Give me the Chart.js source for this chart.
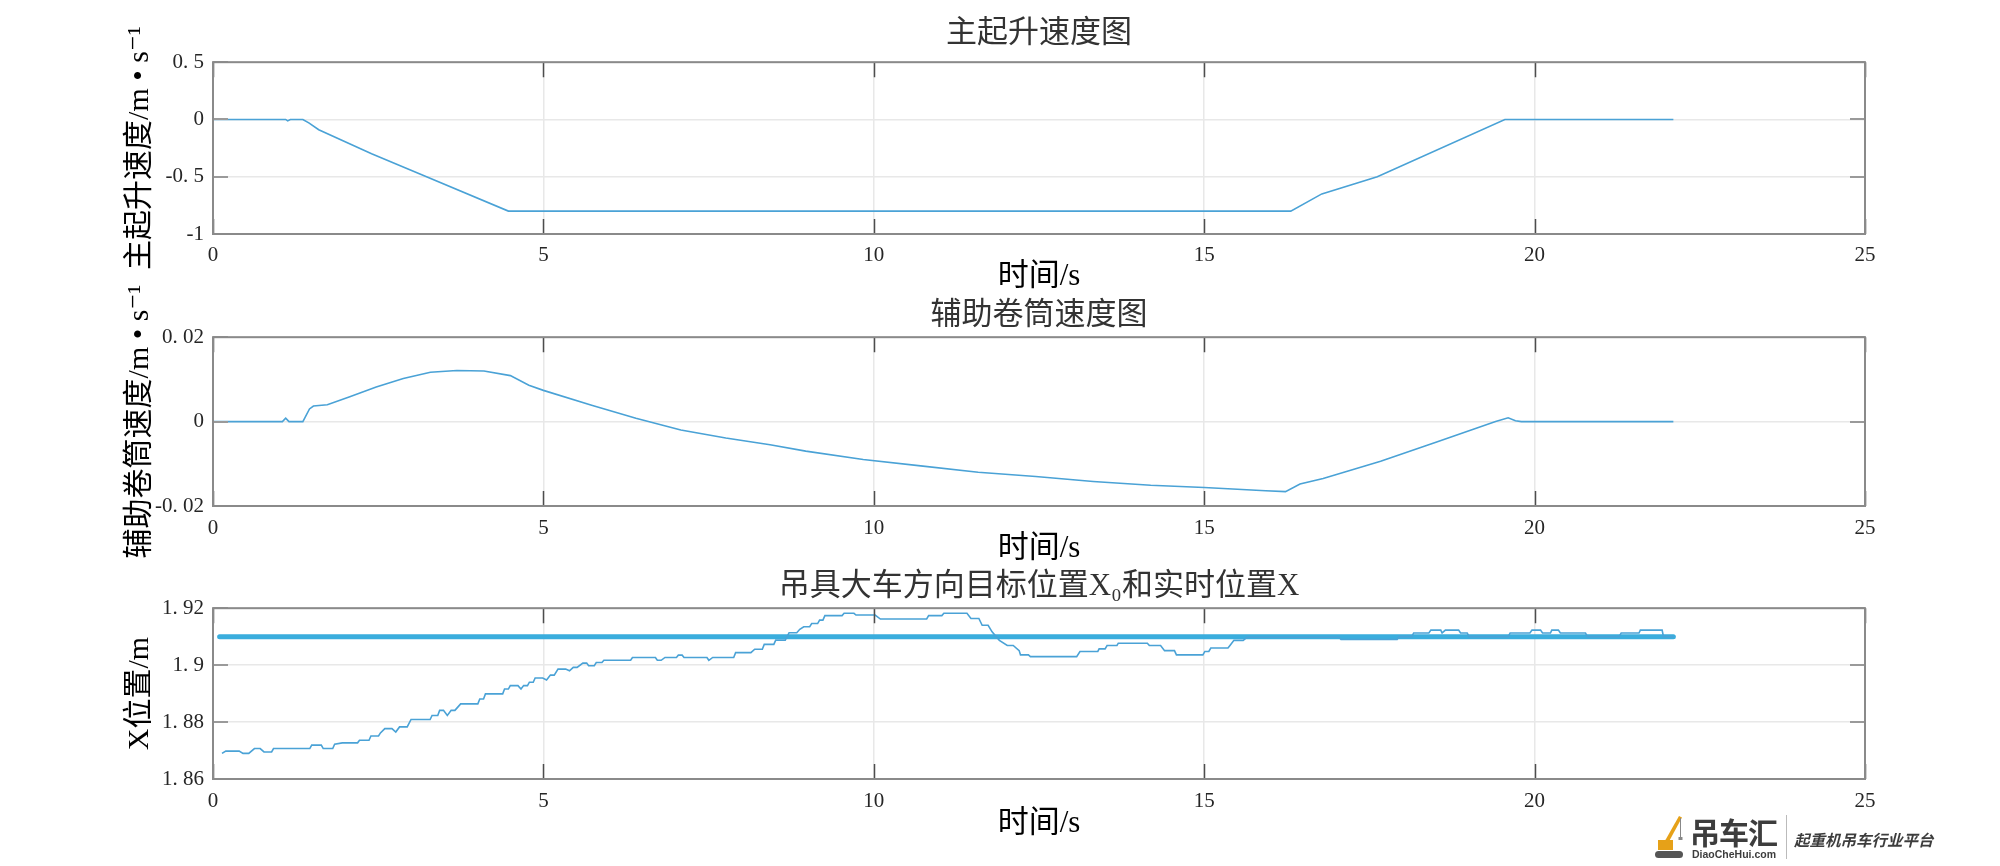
<!DOCTYPE html>
<html>
<head>
<meta charset="utf-8">
<script src="https://cdn.jsdelivr.net/npm/chart.js@4.4.1/dist/chart.umd.min.js"></script>
<style>
  html, body { margin: 0; padding: 0; background: #fff; }
  body { width: 2000px; height: 866px; position: relative; overflow: hidden; }
  canvas { position: absolute; left: 0; }
  #logo { position: absolute; left: 1654px; top: 813px; width: 300px; height: 48px; color: #3d3d3d;
          font-family: "Noto Sans CJK SC", sans-serif; }
  #logo svg { position: absolute; left: 0; top: 2px; }
  #logo .big { position: absolute; left: 36px; top: -4px; font-size: 30px; font-weight: bold; letter-spacing: -1px; }
  #logo .url { position: absolute; left: 38px; top: 35px; font-size: 10.5px; font-family: "Liberation Sans", sans-serif; font-weight: bold; }
  #logo .bar { position: absolute; left: 132px; top: 2px; width: 1px; height: 44px; background: #bbb; }
  #logo .slogan { position: absolute; left: 140px; top: 15px; font-size: 15.5px; font-weight: bold; font-style: italic; }
</style>
</head>
<body>
<canvas id="c1" width="2000" height="300" style="top:0px"></canvas>
<canvas id="c2" width="2000" height="305" style="top:270px"></canvas>
<canvas id="c3" width="2000" height="306" style="top:560px"></canvas>
<div id="logo">
  <svg width="34" height="44" viewBox="0 0 34 44">
    <path d="M8 31 L25 1 L28 2.5 L12 32 Z" fill="#e6a118"/>
    <line x1="26.5" y1="3" x2="26.5" y2="22" stroke="#888" stroke-width="1"/>
    <path d="M24.5 22 h4 v3 h-4 z" fill="#888"/>
    <rect x="4" y="25" width="15" height="10" fill="#e6a118"/>
    <rect x="1" y="36" width="28" height="7" rx="3.5" fill="#555"/>
  </svg>
  <span class="big">吊车汇</span>
  <span class="url">DiaoCheHui.com</span>
  <span class="bar"></span>
  <span class="slogan">起重机吊车行业平台</span>
</div>
<script>
// ---- data ----
const xTickValues = [0, 5, 10, 15, 20, 25];
const xTickLabels = ['0', '5', '10', '15', '20', '25'];

// 主起升速度
const time1  = [0, 1.1, 1.13, 1.17, 1.36, 1.45, 1.6, 2.4, 3.15, 4.47, 16.31, 16.78, 17.62, 19.55, 22.1];
const speed1 = [0, 0, -0.012, 0, 0, -0.03, -0.09, -0.3, -0.48, -0.8, -0.8, -0.65, -0.5, 0, 0];
const yTickValues1 = [-1, -0.5, 0, 0.5];
const yTickLabels1 = ['-1', '-0. 5', '0', '0. 5'];

// 辅助卷筒速度
const time2  = [0, 1.05, 1.1, 1.15, 1.36, 1.46, 1.52, 1.73, 2.07, 2.47, 2.88, 3.29, 3.69, 4.1, 4.5, 4.78, 5.0,
                5.73, 6.4, 7.08, 7.76, 8.43, 8.97, 9.84, 10.71, 11.58, 12.45, 13.32, 14.19, 15.0, 15.93, 16.23,
                16.45, 16.8, 17.67, 18.54, 19.41, 19.6, 19.71, 19.8, 22.1];
const speed2 = [0, 0, 0.0008, 0, 0, 0.0030, 0.0037, 0.0040, 0.0059, 0.0082, 0.0102, 0.0117, 0.0121, 0.0120, 0.0109, 0.0086, 0.0074,
                0.0039, 0.0008, -0.0020, -0.0039, -0.0055, -0.0070, -0.0090, -0.0105, -0.0120, -0.0130, -0.0142, -0.0151, -0.0156, -0.0164, -0.0166,
                -0.0148, -0.0135, -0.0094, -0.0047, 0, 0.0009, 0.0002, 0, 0];
const yTickValues2 = [-0.02, 0, 0.02];
const yTickLabels2 = ['-0. 02', '0', '0. 02'];

// 目标位置 X0
const timeTarget = [0.1, 22.1];
const posTarget  = [1.91, 1.91];
// 实时位置 X
const time3 = [0.136, 0.194, 0.396, 0.454, 0.541, 0.627, 0.714, 0.772, 0.887, 0.916, 1.465, 1.494, 1.639, 1.668, 1.812, 1.841,
  1.957, 2.188, 2.217, 2.361, 2.39, 2.505, 2.534, 2.6, 2.708, 2.766, 2.823, 2.939, 2.997, 3.286, 3.315, 3.401, 3.43, 3.488,
  3.546, 3.604, 3.661, 3.748, 4.008, 4.037, 4.094, 4.123, 4.384, 4.412, 4.47, 4.499, 4.615, 4.661, 4.701, 4.759, 4.788, 4.846,
  4.875, 4.99, 5.048, 5.106, 5.164, 5.221, 5.337, 5.395, 5.452, 5.51, 5.597, 5.655, 5.684, 5.77, 5.8, 5.886, 5.915, 6.32,
  6.348, 6.695, 6.724, 6.782, 6.84, 7.013, 7.042, 7.1, 7.128, 7.475, 7.504, 7.562, 7.88, 7.909, 8.14, 8.198, 8.313, 8.342,
  8.487, 8.516, 8.66, 8.718, 8.834, 8.88, 8.94, 9.03, 9.06, 9.15, 9.18, 9.23, 9.26, 9.52, 9.55, 9.7, 9.73, 10.02, 10.1, 10.8,
  10.83, 11.03, 11.06, 11.41, 11.47, 11.59, 11.64, 11.73, 11.79, 11.9, 12.02, 12.11, 12.2, 12.22, 12.34, 12.37, 13.07, 13.12,
  13.39, 13.41, 13.5, 13.53, 13.68, 13.7, 14.14, 14.17, 14.34, 14.4, 14.55, 14.58, 14.98, 15.01, 15.07, 15.1, 15.36, 15.39,
  15.45, 15.59, 15.65, 17.04, 17.07, 17.92, 17.95, 18.14, 18.17, 18.4, 18.43, 18.58, 18.6, 18.65, 18.85, 18.88, 18.98, 19.01,
  19.6, 19.63, 19.93, 19.96, 20.09, 20.12, 20.24, 20.26, 20.36, 20.39, 20.77, 20.8, 21.28, 21.31, 21.58, 21.6, 21.93, 21.95, 22.1];
const pos3 = [1.869, 1.8698, 1.8698, 1.869, 1.869, 1.8707, 1.8707, 1.8695, 1.8695, 1.8707, 1.8707, 1.8719, 1.8719, 1.8707, 1.8707, 1.8722,
  1.8727, 1.8727, 1.8736, 1.8736, 1.8751, 1.8751, 1.8762, 1.8777, 1.8777, 1.8765, 1.8783, 1.8783, 1.8809, 1.8809, 1.8823, 1.8823, 1.8841, 1.8841,
  1.8823, 1.8841, 1.8841, 1.8864, 1.8864, 1.8881, 1.8881, 1.8899, 1.8899, 1.8916, 1.8916, 1.8928, 1.8928, 1.8916, 1.8928, 1.8928, 1.894, 1.894,
  1.8955, 1.8955, 1.8948, 1.8965, 1.8965, 1.8986, 1.8986, 1.898, 1.8992, 1.8992, 1.9007, 1.9007, 1.8998, 1.8998, 1.9009, 1.9009, 1.9017, 1.9017,
  1.9027, 1.9027, 1.9017, 1.9017, 1.9027, 1.9027, 1.9035, 1.9035, 1.9027, 1.9027, 1.9017, 1.9027, 1.9027, 1.9044, 1.9044, 1.9056, 1.9056, 1.9073,
  1.9073, 1.9088, 1.9088, 1.9114, 1.9114, 1.9126, 1.9135, 1.9135, 1.9146, 1.9146, 1.9158, 1.9158, 1.9174, 1.9174, 1.9182, 1.9182, 1.9176, 1.9176, 1.9162, 1.9162,
  1.9174, 1.9174, 1.9182, 1.9182, 1.9164, 1.9164, 1.914, 1.914, 1.9117, 1.9087, 1.9069, 1.9069, 1.9051, 1.9036, 1.9036, 1.903, 1.903, 1.9048,
  1.9048, 1.9057, 1.9057, 1.9069, 1.9069, 1.9077, 1.9077, 1.9069, 1.9069, 1.9051, 1.9051, 1.9036, 1.9036, 1.9048, 1.9048, 1.906, 1.906, 1.9069,
  1.9087, 1.9087, 1.9098, 1.9098, 1.909, 1.909, 1.91, 1.91, 1.9113, 1.9113, 1.9123, 1.9123, 1.9113, 1.9123, 1.9123, 1.9113, 1.9113, 1.91,
  1.91, 1.9113, 1.9113, 1.9123, 1.9123, 1.9113, 1.9113, 1.9123, 1.9123, 1.9113, 1.9113, 1.91, 1.91, 1.9113, 1.9113, 1.9123, 1.9123, 1.91, 1.91];
const yTickValues3 = [1.86, 1.88, 1.9, 1.92];
const yTickLabels3 = ['1. 86', '1. 88', '1. 9', '1. 92'];

// ---- styling ----
const FONT = '"Liberation Serif", "DejaVu Serif", "Noto Sans CJK SC", serif';
const LINE_BLUE = '#4aa2d6';
const TARGET_BLUE = '#3aaddd';
const TICK_LEN = 15;

const toPoints = (xs, ys) => xs.map((x, i) => ({ x: x, y: ys[i] }));

// MATLAB style box with inward ticks on all four sides
const matlabAxes = {
  id: 'matlabAxes',
  afterDatasetsDraw(chart) {
    const { ctx, chartArea: a, scales: { x, y } } = chart;
    ctx.save();
    ctx.strokeStyle = '#4d4d4d';
    ctx.lineWidth = 1.5;
    ctx.beginPath();
    x.ticks.forEach(t => {
      const px = Math.round(x.getPixelForValue(t.value)) + 0.5;
      ctx.moveTo(px, a.top); ctx.lineTo(px, a.top + TICK_LEN);
      ctx.moveTo(px, a.bottom); ctx.lineTo(px, a.bottom - TICK_LEN);
    });
    ctx.stroke();
    ctx.strokeStyle = '#9a9a9a';
    ctx.lineWidth = 2;
    ctx.beginPath();
    y.ticks.forEach(t => {
      const py = Math.round(y.getPixelForValue(t.value));
      ctx.moveTo(a.left, py); ctx.lineTo(a.left + TICK_LEN, py);
      ctx.moveTo(a.right, py); ctx.lineTo(a.right - TICK_LEN, py);
    });
    ctx.stroke();
    ctx.strokeStyle = '#8a8a8a';
    ctx.lineWidth = 2;
    ctx.strokeRect(a.left, a.top, a.right - a.left, a.bottom - a.top);
    ctx.restore();
  }
};

function makeChart(id, o) {
  return new Chart(document.getElementById(id), {
    type: 'line',
    data: { datasets: o.datasets },
    options: {
      responsive: false,
      animation: false,
      events: [],
      layout: { padding: { left: 0, right: 135, top: 0, bottom: 0 } },
      elements: { point: { radius: 0 }, line: { tension: 0 } },
      plugins: {
        legend: { display: false },
        tooltip: { enabled: false },
        title: {
          display: true, text: o.title, fullSize: false, color: '#333',
          font: { family: FONT, size: 31, weight: 'normal', lineHeight: 1.2 },
          padding: o.titlePad
        }
      },
      scales: {
        x: {
          type: 'linear', min: 0, max: 25,
          afterBuildTicks: s => { s.ticks = xTickValues.map(v => ({ value: v })); },
          afterFit: s => { s.height = o.xHeight; },
          ticks: {
            padding: o.tickPad, color: '#262626', maxRotation: 0, autoSkip: false,
            font: { family: FONT, size: 21 },
            callback: (v, i) => xTickLabels[i]
          },
          grid: { color: '#e8e8e8', lineWidth: 1.5, drawTicks: false },
          border: { display: false },
          title: {
            display: true, text: '时间/s', color: '#000',
            font: { family: FONT, size: 31 },
            padding: { top: 0, bottom: o.xTitlePad }
          }
        },
        y: {
          type: 'linear', min: o.yMin, max: o.yMax,
          afterBuildTicks: s => { s.ticks = o.yTickValues.map(v => ({ value: v })); },
          afterFit: s => { s.width = 213; },
          ticks: {
            padding: 9, color: '#262626', autoSkip: false,
            font: { family: FONT, size: 21 },
            callback: (v, i) => o.yTickLabels[i]
          },
          grid: { color: '#e8e8e8', lineWidth: 1.5, drawTicks: false },
          border: { display: false },
          title: {
            display: true, text: o.yTitle, color: '#000',
            font: { family: FONT, size: 30 },
            padding: { top: 122, bottom: 0 }
          }
        }
      }
    },
    plugins: [matlabAxes]
  });
}

makeChart('c1', {
  title: '主起升速度图',
  titlePad: { top: 15, bottom: 10 },
  xHeight: 66, tickPad: 9, xTitlePad: 5,
  yMin: -1, yMax: 0.5, yTickValues: yTickValues1, yTickLabels: yTickLabels1,
  yTitle: '主起升速度/m • s⁻¹',
  datasets: [{ data: toPoints(time1, speed1), borderColor: LINE_BLUE, borderWidth: 1.6 }]
});

makeChart('c2', {
  title: '辅助卷筒速度图',
  titlePad: { top: 27, bottom: 3 },
  xHeight: 69, tickPad: 10, xTitlePad: 8,
  yMin: -0.02, yMax: 0.02, yTickValues: yTickValues2, yTickLabels: yTickLabels2,
  yTitle: '辅助卷筒速度/m • s⁻¹',
  datasets: [{ data: toPoints(time2, speed2), borderColor: LINE_BLUE, borderWidth: 1.6 }]
});

makeChart('c3', {
  title: '吊具大车方向目标位置X₀和实时位置X',
  titlePad: { top: 8, bottom: 3 },
  xHeight: 87, tickPad: 10, xTitlePad: 24,
  yMin: 1.86, yMax: 1.92, yTickValues: yTickValues3, yTickLabels: yTickLabels3,
  yTitle: 'X位置/m',
  datasets: [
    { label: 'X', data: toPoints(time3, pos3), borderColor: LINE_BLUE, borderWidth: 1.6 },
    { label: 'X0', data: toPoints(timeTarget, posTarget), borderColor: TARGET_BLUE, borderWidth: 5, borderCapStyle: 'round' }
  ]
});
</script>
</body>
</html>
